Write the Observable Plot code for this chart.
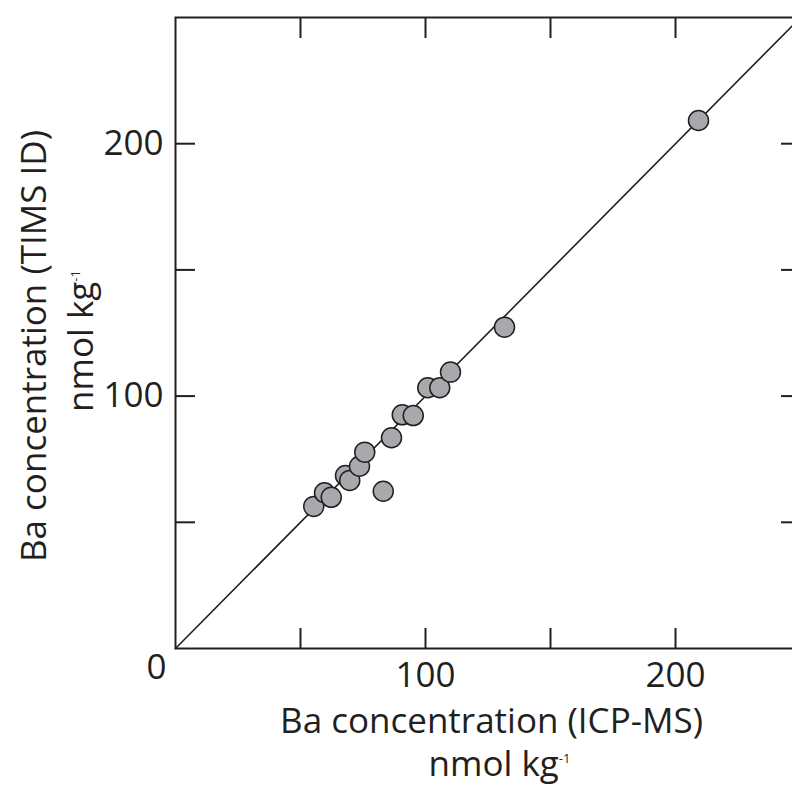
<!DOCTYPE html>
<html><head><meta charset="utf-8">
<script src="https://cdn.jsdelivr.net/npm/d3@7"></script>
<script src="https://cdn.jsdelivr.net/npm/@observablehq/plot@0.6"></script>
<style>html,body{margin:0;padding:0;background:#fff;overflow:hidden}</style>
</head><body><div id="chart"></div>
<script>
const icpms  = [55.3, 59.6, 62.3, 68.0, 69.7, 73.6, 75.7, 83.1, 86.4, 90.7, 95.1, 100.9, 105.7, 110.0, 131.6, 209.2];
const timsid = [56.3, 61.7, 59.9, 68.5, 66.6, 72.2, 77.8, 62.3, 83.5, 92.6, 92.3, 103.3, 103.3, 109.5, 127.3, 209.2];
const axisTicks = [50, 100, 150, 200];
const labeledTicks = [100, 200];
const zeroLabel = ["0"];
const oneToOne = [0, 250];
const xTitle = "Ba concentration (ICP-MS)";
const yTitle = "Ba concentration (TIMS ID)";
const unitLabel = "nmol kg";
const unitExponent = "-1";

const points = icpms.map((x, i) => ({x, y: timsid[i]}));
const ink = "#231f20";
const txt = {fill: ink, lineAnchor: "middle"};

const chart = Plot.plot({
  width: 792, height: 785,
  marginLeft: 175, marginRight: -8, marginTop: 17, marginBottom: 137,
  x: {domain: [0, 250]},
  y: {domain: [0, 250]},
  style: {fontFamily: "'Open Sans', sans-serif", fontSize: "35px", color: ink, background: "#fff", maxWidth: "none"},
  marks: [
    Plot.axisX({anchor: "bottom", ticks: axisTicks, tickSize: -20, tickFormat: () => "", label: null, strokeWidth: 2, stroke: ink}),
    Plot.axisX({anchor: "top", ticks: axisTicks, tickSize: -20, tickFormat: () => "", label: null, strokeWidth: 2, stroke: ink}),
    Plot.axisY({anchor: "left", ticks: axisTicks, tickSize: -20, tickFormat: () => "", label: null, strokeWidth: 2, stroke: ink}),
    Plot.axisY({anchor: "right", ticks: axisTicks, tickSize: -20, tickFormat: () => "", label: null, strokeWidth: 2, stroke: ink}),
    Plot.frame({stroke: ink, strokeWidth: 2}),
    Plot.line(oneToOne, {x: d => d, y: d => d, stroke: ink, strokeWidth: 1.6}),
    Plot.dot(points, {x: "x", y: "y", r: 10, fill: "#a7a9ac", stroke: ink, strokeWidth: 1.5}),
    Plot.text(labeledTicks, {...txt, x: d => d, frameAnchor: "bottom", textAnchor: "middle", dy: 27}),
    Plot.text(labeledTicks, {...txt, y: d => d, frameAnchor: "left", textAnchor: "end", dx: -12}),
    Plot.text(zeroLabel, {...txt, frameAnchor: "bottom-left", textAnchor: "middle", dx: -19, dy: 19}),
    Plot.text([xTitle], {...txt, frameAnchor: "bottom", textAnchor: "middle", dx: 3.5, dy: 73}),
    Plot.text([unitLabel], {...txt, frameAnchor: "bottom", textAnchor: "middle", dx: 11.5, dy: 116}),
    Plot.text([yTitle], {...txt, frameAnchor: "left", textAnchor: "middle", rotate: -90, dx: -141, dy: 13}),
    Plot.text([unitLabel], {...txt, frameAnchor: "left", textAnchor: "middle", rotate: -90, dx: -94, dy: 8})
  ]
});

d3.select(chart).selectAll("text").filter(function() { return this.textContent === unitLabel; })
  .append("tspan").attr("font-size", 13).attr("dy", -13).text(unitExponent);

document.getElementById("chart").appendChild(chart);
</script>
</body></html>
